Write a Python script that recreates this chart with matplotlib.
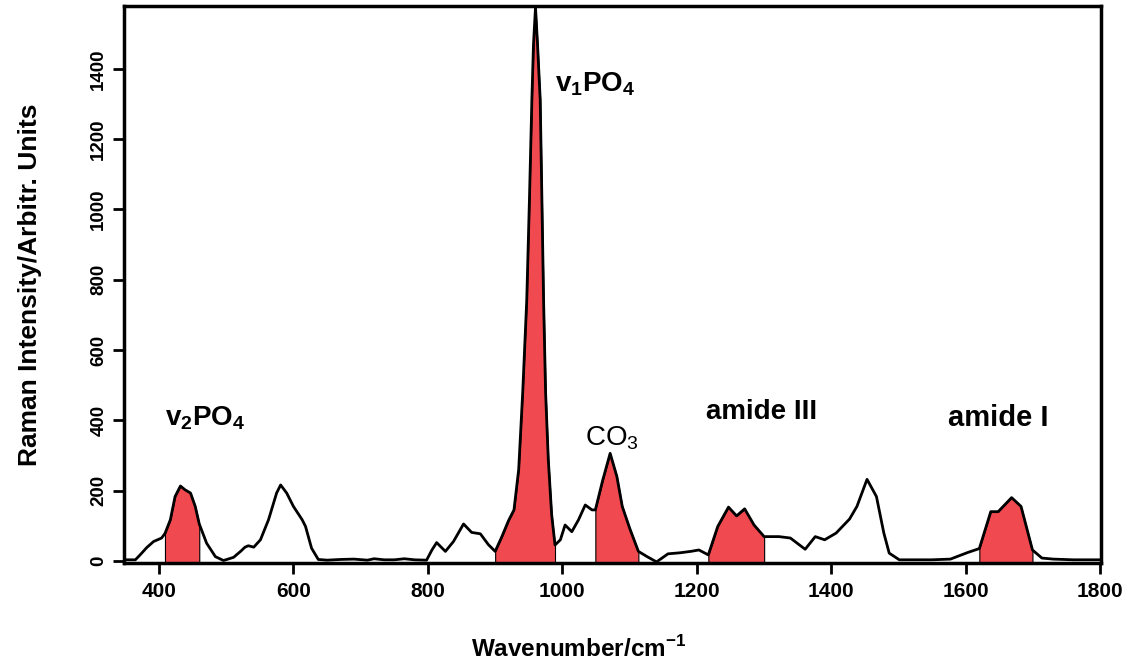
import numpy as np
import matplotlib.pyplot as plt

plt.rcParams['font.family'] = ['Liberation Sans', 'DejaVu Sans']
plt.rcParams['mathtext.fontset'] = 'custom'
plt.rcParams['mathtext.rm'] = 'Liberation Sans'
plt.rcParams['mathtext.bf'] = 'Liberation Sans:bold'

# spectrum
wavenumber = [350, 365, 372, 382, 392, 404, 409, 417, 424, 432, 439, 447, 454, 460,
              471, 484, 496, 511, 522, 528, 533, 541, 551, 563, 575, 581, 590, 600,
              613, 618, 627, 637, 650, 670, 690, 710, 720, 735, 750, 765, 780, 798,
              806, 813, 826, 838, 853, 865, 878, 890, 900, 910, 920, 928, 935, 941,
              947, 951, 954.6, 957, 960, 963, 967, 969.5, 972, 975, 979, 984, 989,
              997, 1004, 1014, 1024, 1034, 1044, 1049, 1060, 1071, 1081, 1089, 1100,
              1113, 1126, 1140, 1157, 1175, 1191, 1203, 1217, 1231, 1247, 1259, 1271,
              1285, 1300, 1322, 1339, 1361, 1376, 1390, 1407, 1427, 1438, 1453, 1467,
              1478, 1486, 1501, 1549, 1577, 1603, 1620, 1637, 1648, 1668, 1682, 1699,
              1713, 1730, 1760, 1800]
intensity = [3, 3, 17, 38, 55, 65, 78, 117, 183, 213, 202, 193, 155, 105,
             50, 12, 1, 10, 28, 39, 43, 39, 60, 117, 193, 216, 193, 155,
             117, 98, 36, 4, 2, 4, 5, 2, 6, 3, 3, 6, 3, 2,
             31, 52, 27, 55, 105, 81, 77, 46, 27, 69, 115, 145, 260, 480,
             743, 1030, 1312, 1470, 1575, 1470, 1312, 1030, 743, 480, 289, 132, 45,
             60, 102, 83, 117, 159, 145, 145, 230, 306, 240, 155, 93,
             27, 12, -3, 20, 23, 27, 31, 17, 98, 153, 128, 148,
             102, 69, 69, 65, 33, 69, 60, 79, 119, 155, 232, 183,
             79, 22, 3, 3, 5, 24, 35, 140, 140, 180, 155, 31,
             8, 5, 3, 3]

# shaded bands (start, end)
bands = [(409, 460), (900, 989), (1049, 1113), (1217, 1300), (1620, 1699)]

labels = [r'$\mathbf{v_2PO_4}$', r'$\mathbf{v_1PO_4}$', r'CO$_3$', 'amide III', 'amide I']
label_x = [409, 989, 1034, 1214, 1574]
label_y = [405, 1355, 350, 424, 407]

x = np.array(wavenumber)
y = np.array(intensity)

fig = plt.figure(figsize=(11.33, 6.61), dpi=100)
ax = fig.add_axes([0.1094, 0.1483, 0.8624, 0.8426])
ymin, ymax = -6, 1579

for a, b in bands:
    m = (x >= a) & (x <= b)
    ax.fill_between(x[m], ymin, y[m], facecolor='#f0494f', edgecolor='black', linewidth=0.8)

ax.plot(x, y, color='black', linewidth=2.0, solid_joinstyle='round', clip_on=False)

for t, tx, ty in zip(labels, label_x, label_y):
    w = 'normal' if t.startswith('CO') else 'bold'
    fs = 21 if t == 'amide I' else 20
    ax.text(tx, ty, t, fontsize=fs, fontweight=w, va='center', ha='left')

ax.set_xlim(348, 1801)
ax.set_ylim(ymin, ymax)
ax.set_xticks(range(400, 1801, 200))
ax.set_yticks(range(0, 1401, 200))
ax.tick_params(axis='x', labelsize=15, length=8, width=2, direction='out', pad=6)
ax.tick_params(axis='y', labelsize=13.5, length=8, width=2, direction='out', pad=4)
for lab in ax.get_xticklabels():
    lab.set_fontweight('bold')
for lab in ax.get_yticklabels():
    lab.set_fontweight('bold')
    lab.set_rotation(90)
    lab.set_va('center')
for s in ax.spines.values():
    s.set_linewidth(2.5)

ax.set_xlabel(r'Wavenumber/cm$^{\mathbf{-1}}$', fontsize=17.5, fontweight='bold')
ax.xaxis.set_label_coords(0.465, -0.131)
ax.xaxis.label.set_va('top')
ax.set_ylabel('Raman Intensity/Arbitr. Units', fontsize=19, fontweight='bold')
ax.yaxis.set_label_coords(-0.084, 0.499)

plt.savefig('out.png', dpi=100)
